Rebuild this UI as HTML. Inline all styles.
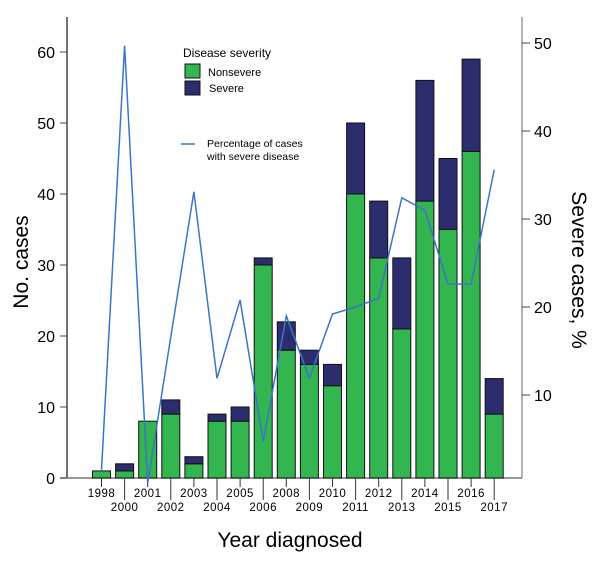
<!DOCTYPE html>
<html><head><meta charset="utf-8"><style>
body{margin:0;background:#fff;font-family:"Liberation Sans",sans-serif}
svg text{font-family:"Liberation Sans",sans-serif}
</style></head><body>
<svg id="c" width="600" height="571"></svg>
<script>
const years=["1998","2000","2001","2002","2003","2004","2005","2006","2008","2009","2010","2011","2012","2013","2014","2015","2016","2017"];
const nonsevere=[1,1,8,9,2,8,8,30,18,16,13,40,31,21,39,35,46,9];
const severe=[0,1,0,2,1,1,2,1,4,2,3,10,8,10,17,10,13,5];
const pct=[1.5,49.7,0,16.6,33.1,11.9,20.8,4.7,19,11.9,19.2,20,21,32.4,31,22.6,22.6,35.6];
const leftTicks=[0,10,20,30,40,50,60];
const rightTicks=[10,20,30,40,50];
const NS="http://www.w3.org/2000/svg",svg=document.getElementById('c');
function mk(t,a,txt){const e=document.createElementNS(NS,t);for(const k in a)e.setAttribute(k,a[k]);if(txt!=null)e.textContent=txt;svg.appendChild(e);return e;}
const yL=v=>478-v*7.1, yR=v=>483-v*8.8, xC=i=>101.5+i*23.1;
let e;
e=mk('line',{x1:67,y1:17,x2:67,y2:478,stroke:'#444','stroke-width':1.5});
e=mk('line',{x1:522,y1:17,x2:522,y2:478,stroke:'#999','stroke-width':1.5});
e=mk('line',{x1:60,y1:478,x2:522,y2:478,stroke:'#777','stroke-width':1.5});
leftTicks.forEach(v=>{mk('line',{x1:60,y1:yL(v),x2:67,y2:yL(v),stroke:'#444'});
e=mk('text',{x:55,y:yL(v)+6,'text-anchor':'end','font-size':16},v);});
rightTicks.forEach(v=>{mk('line',{x1:522,y1:yR(v),x2:530,y2:yR(v),stroke:'#444'});
e=mk('text',{x:534,y:yR(v)+6,'font-size':16},v);});
years.forEach((y,i)=>{const x=xC(i)-9;
e=mk('rect',{x:x,y:yL(nonsevere[i]),width:18,height:nonsevere[i]*7.1,fill:'#33b54f',stroke:'#111','stroke-width':1});
if(severe[i]>0){e=mk('rect',{x:x,y:yL(nonsevere[i]+severe[i]),width:18,height:severe[i]*7.1,fill:'#2b2d6e',stroke:'#111','stroke-width':1});}
const row=i%2;
mk('line',{x1:xC(i),y1:478,x2:xC(i),y2:row?500:487,stroke:'#333'});
e=mk('text',{x:xC(i),y:row?511:497,'text-anchor':'middle','font-size':11.5,'letter-spacing':'0.5'},y);});
e=mk('polyline',{points:pct.map((v,i)=>xC(i)+','+yR(v)).join(' '),fill:'none',stroke:'#3b75c8','stroke-width':1.5});
e=mk('text',{x:183,y:57,'font-size':12},'Disease severity');
e=mk('rect',{x:185,y:64,width:15,height:14,fill:'#33b54f',stroke:'#111'});
e=mk('text',{x:208,y:76,'font-size':11},'Nonsevere');
e=mk('rect',{x:185,y:81,width:15,height:14,fill:'#2b2d6e',stroke:'#111'});
e=mk('text',{x:209,y:92,'font-size':11},'Severe');
e=mk('line',{x1:181,y1:144,x2:195,y2:144,stroke:'#3b75c8','stroke-width':1.5});
e=mk('text',{x:207,y:147,'font-size':10.5},'Percentage of cases');
e=mk('text',{x:207,y:160,'font-size':10.5},'with severe disease');
e=mk('text',{x:0,y:0,'font-size':21,'text-anchor':'middle',transform:'translate(28,262) rotate(-90)'},'No. cases');
e=mk('text',{x:0,y:0,'font-size':21,'text-anchor':'middle',transform:'translate(572,270) rotate(90)'},'Severe cases, %');
e=mk('text',{x:290,y:547,'font-size':21,'text-anchor':'middle'},'Year diagnosed');
</script>
</body></html>
